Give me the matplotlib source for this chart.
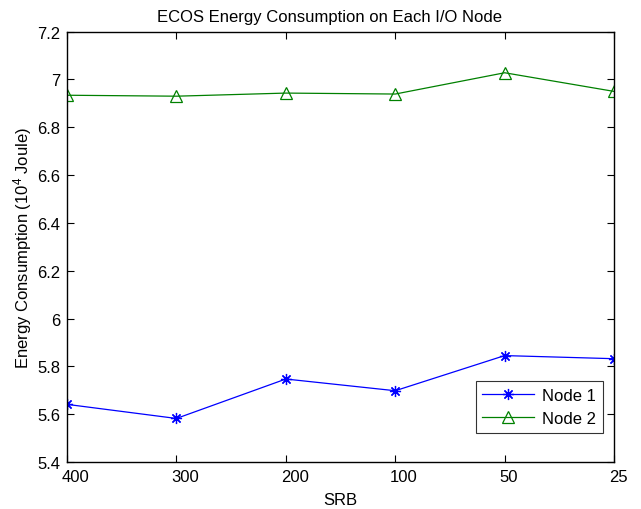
import numpy as np
import matplotlib
matplotlib.use('Agg')
import matplotlib.pyplot as plt
import matplotlib.transforms as mtransforms
from matplotlib.ticker import FuncFormatter

# SRB values on the x axis
srb_labels = ['400', '300', '200', '100', '50', '25']

# energy consumption (10^4 Joule)
node1 = [5.641, 5.582, 5.747, 5.698, 5.845, 5.832]
node2 = [6.934, 6.930, 6.943, 6.939, 7.028, 6.950]

y_ticks = [5.4, 5.6, 5.8, 6.0, 6.2, 6.4, 6.6, 6.8, 7.0, 7.2]

plt.rcParams['font.family'] = ['Liberation Sans', 'DejaVu Sans']
plt.rcParams['mathtext.fontset'] = 'custom'
plt.rcParams['mathtext.rm'] = 'Liberation Sans'
plt.rcParams['mathtext.it'] = 'Liberation Sans'
plt.rcParams['font.size'] = 12


def energy_plot():
    fig = plt.figure(figsize=(6.41, 5.10), dpi=100)
    ax = fig.add_axes([0.1045, 0.0922, 0.8535, 0.8438])

    x = np.arange(len(srb_labels))
    ax.plot(x, node1, color='#0000ff', linewidth=0.9, marker=(8, 2, 0),
            markersize=8, markeredgewidth=0.9, label='Node 1')
    ax.plot(x, node2, color='#008000', linewidth=0.9, marker='^',
            markersize=9, markerfacecolor='none', markeredgewidth=0.9,
            label='Node 2')

    ax.set_xlim(0, len(srb_labels) - 1)
    ax.set_xticks(x)
    ax.set_xticklabels(srb_labels)
    ax.set_ylim(5.4, 7.2)
    ax.set_yticks(y_ticks)
    ax.yaxis.set_major_formatter(FuncFormatter(lambda v, p: ('%g' % round(v, 2))))

    ax.tick_params(direction='in', top=True, right=True, length=5, width=0.8,
                   labelsize=12)
    ax.tick_params(axis='x', pad=5)
    ax.tick_params(axis='y', pad=5)
    # matlab-style: x labels start just left of the tick
    offset = mtransforms.ScaledTranslation(-5 / 100, 0, fig.dpi_scale_trans)
    for lab in ax.get_xticklabels():
        lab.set_horizontalalignment('left')
        lab.set_transform(lab.get_transform() + offset)
    for s in ax.spines.values():
        s.set_linewidth(1.0)

    ax.set_title('ECOS Energy Consumption on Each I/O Node', fontsize=12,
                 pad=8, x=0.479)
    ax.set_xlabel('SRB', fontsize=12, labelpad=6)
    ax.set_ylabel('Energy Consumption (10$^{4}$ Joule)', fontsize=12, labelpad=2)

    leg = ax.legend(loc='lower right', bbox_to_anchor=(0.995, 0.049),
                    fancybox=False, edgecolor='black', fontsize=12,
                    handlelength=3.1, borderpad=0.4, labelspacing=0.5,
                    handletextpad=0.5)
    leg.get_frame().set_linewidth(0.8)

    fig.savefig('out.png', dpi=100)


if __name__ == '__main__':
    energy_plot()
